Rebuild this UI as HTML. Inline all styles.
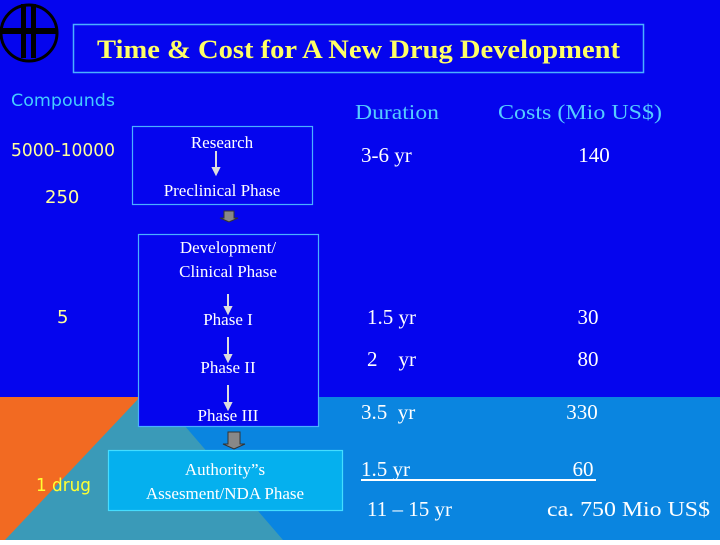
<!DOCTYPE html>
<html><head><meta charset="utf-8"><style>
body{margin:0;width:720px;height:540px;overflow:hidden;}
text{font-family:"Liberation Serif",serif;}
text.s{font-family:"DejaVu Sans","Liberation Sans",sans-serif;}
</style></head><body>
<svg width="720" height="540" viewBox="0 0 720 540">
<rect x="0" y="0" width="720" height="540" fill="#0505ee"/>
<rect x="0" y="397" width="720" height="143" fill="#0a85e0"/>
<polygon points="0,397 160,397 283,540 0,540" fill="#3a9ab8"/>
<polygon points="0,397 140,397 5,540 0,540" fill="#f26a22"/>
<g>
<circle cx="29" cy="33" r="28" fill="none" stroke="#000" stroke-width="3"/>
<rect x="21" y="4" width="5" height="54" fill="#000"/>
<rect x="31" y="4" width="5" height="54" fill="#000"/>
<rect x="2" y="28" width="54" height="6" fill="#000"/>
</g>
<rect x="73.5" y="24.5" width="570" height="48" fill="none" stroke="#4ab0ff" stroke-width="1.5"/>
<text x="97" y="58" font-size="26" font-weight="bold" fill="#ffff66" textLength="523" lengthAdjust="spacingAndGlyphs">Time &amp; Cost  for A New Drug Development</text>
<text class="s" x="11" y="106" font-size="17" fill="#44ccff" textLength="104" lengthAdjust="spacingAndGlyphs">Compounds</text>
<text x="355" y="119" font-size="21" fill="#55ccff" textLength="84" lengthAdjust="spacingAndGlyphs">Duration</text>
<text x="498" y="119" font-size="21" fill="#55ccff" textLength="164" lengthAdjust="spacingAndGlyphs">Costs (Mio US$)</text>
<text class="s" x="11" y="156" font-size="18" fill="#ffff99" textLength="104" lengthAdjust="spacingAndGlyphs">5000-10000</text>
<text class="s" x="45" y="203" font-size="18" fill="#ffff99">250</text>
<text class="s" x="57" y="323" font-size="18" fill="#ffff99">5</text>
<text class="s" x="36" y="491" font-size="18" fill="#ffff33" textLength="55" lengthAdjust="spacingAndGlyphs">1 drug</text>
<rect x="132.5" y="126.5" width="180" height="78" fill="none" stroke="#4ab0ff" stroke-width="1.2"/>
<rect x="138.5" y="234.5" width="180" height="192" fill="#0505ee" stroke="#4ab0ff" stroke-width="1.2"/>
<rect x="108.5" y="450.5" width="234" height="60" fill="#05b0ee" stroke="#44ddff" stroke-width="1.2"/>
<g fill="#fff" font-size="17" text-anchor="middle">
<text x="222" y="148">Research</text>
<text x="222" y="196">Preclinical Phase</text>
<text x="228" y="253">Development/</text>
<text x="228" y="277">Clinical Phase</text>
<text x="228" y="325">Phase I</text>
<text x="228" y="373">Phase II</text>
<text x="228" y="421">Phase III</text>
<text x="225" y="475">Authority”s</text>
<text x="225" y="499">Assesment/NDA Phase</text>
</g>
<g stroke="#ddd" stroke-width="2" fill="#ddd">
<line x1="216" y1="151" x2="216" y2="168"/><polygon points="213,168 219,168 216,174"/>
<line x1="228" y1="294" x2="228" y2="307"/><polygon points="225,307 231,307 228,313"/>
<line x1="228" y1="337" x2="228" y2="355"/><polygon points="225,355 231,355 228,361"/>
<line x1="228" y1="385" x2="228" y2="403"/><polygon points="225,403 231,403 228,409"/>
</g>
<g fill="#888" stroke="#333" stroke-width="1">
<path d="M224,211 h10 v7 h4 l-9,4 l-9,-4 h4 z"/>
<path d="M228,432 h12 v12 h5 l-11,5 l-11,-5 h5 z"/>
</g>
<g fill="#fff" font-size="21">
<text x="361" y="162">3-6 yr</text>
<text x="594" y="162" text-anchor="middle">140</text>
<text x="367" y="324">1.5 yr</text>
<text x="588" y="324" text-anchor="middle">30</text>
<text x="367" y="366" xml:space="preserve">2    yr</text>
<text x="588" y="366" text-anchor="middle">80</text>
<text x="361" y="419" xml:space="preserve">3.5  yr</text>
<text x="582" y="419" text-anchor="middle">330</text>
<text x="361" y="476">1.5 yr</text>
<text x="583" y="476" text-anchor="middle">60</text>
<text x="367" y="516">11 – 15 yr</text>
<text x="710" y="516" text-anchor="end" textLength="163" lengthAdjust="spacingAndGlyphs">ca. 750 Mio US$</text>
</g>
<line x1="361" y1="480" x2="596" y2="480" stroke="#fff" stroke-width="2"/>
</svg>
</body></html>
